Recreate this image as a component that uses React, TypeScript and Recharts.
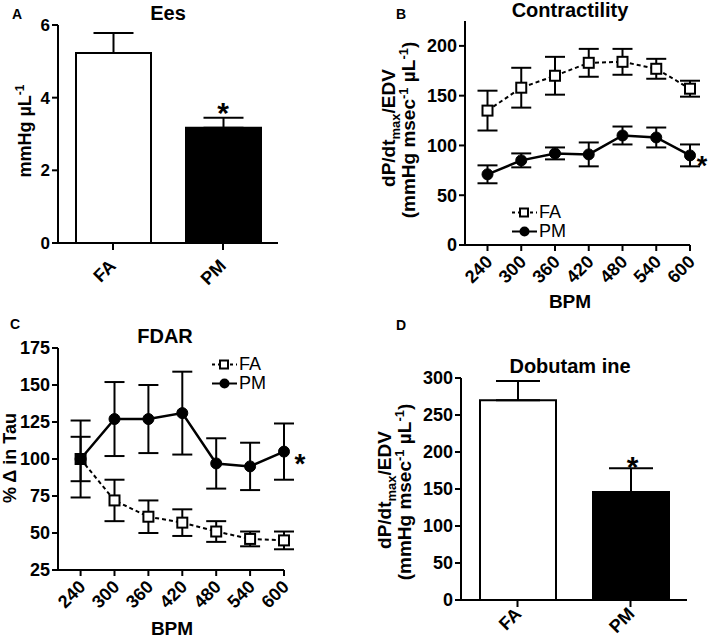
import React from "react";
import {
  BarChart,
  Bar,
  Cell,
  LineChart,
  Line,
  XAxis,
  YAxis,
  ErrorBar,
  ReferenceDot,
  Legend,
} from "recharts";

// x axis of the heart-rate panels
const bpm = [240, 300, 360, 420, 480, 540, 600];

// B - contractility (dP/dtmax/EDV)
const contractFA = [135, 158, 170, 183, 184, 177, 157];
const contractFAErr = [20, 20, 19, 14, 13, 10, 8];
const contractPM = [71, 85, 92, 91, 110, 108, 90];
const contractPMErr = [9, 7, 6, 12, 9, 10, 11];

// C - FDAR (% change in tau)
const fdarFA = [100, 72, 61, 57, 51, 46, 45];
const fdarFAErr = [15, 14, 11, 9, 7, 5, 6];
const fdarPM = [100, 127, 127, 131, 97, 95, 105];
const fdarPMErr = [26, 25, 23, 28, 17, 16, 19];

// A / D - two groups
const groups = ["FA", "PM"];
const eesMean = [5.23, 3.17];
const eesErr = [0.55, 0.28];
const dobMean = [270, 146];
const dobErr = [26, 32];

const groupFill = ["#fff", "#000"];
const FONT = '"Liberation Sans", Arial, Helvetica, sans-serif';

const eesData = groups.map((g, i) => ({ group: g, mean: eesMean[i], err: [0, eesErr[i]] }));
const dobData = groups.map((g, i) => ({ group: g, mean: dobMean[i], err: [0, dobErr[i]] }));
const contractData = bpm.map((b, i) => ({
  bpm: b,
  fa: contractFA[i],
  faErr: contractFAErr[i],
  pm: contractPM[i],
  pmErr: contractPMErr[i],
}));
const fdarData = bpm.map((b, i) => ({
  bpm: b,
  fa: fdarFA[i],
  faErr: fdarFAErr[i],
  pm: fdarPM[i],
  pmErr: fdarPMErr[i],
}));

const axisStyle = { stroke: "#000", strokeWidth: 2 };
const yTick = { fontSize: 18, fontWeight: 700, fill: "#000" };

function RotTick(props: any) {
  const { x, y, payload, dx = 6, dy = 10, fontSize = 18 } = props;
  return (
    <g transform={`translate(${x + dx},${y + dy})`}>
      <text x={0} y={0} textAnchor="end" transform="rotate(-45)" fontSize={fontSize} fontWeight={700} fill="#000">
        {payload.value}
      </text>
    </g>
  );
}

const squareDot = (p: any) => (
  <rect key={`s${p.index}`} x={p.cx - 5} y={p.cy - 5} width={10} height={10} fill="#fff" stroke="#000" strokeWidth={2} />
);
const circleDot = (p: any) => <circle key={`c${p.index}`} cx={p.cx} cy={p.cy} r={5.5} fill="#000" stroke="#000" />;

const star = (dx: number, dy: number, size: number) => (p: any) => (
  <text x={p.cx + dx} y={p.cy + dy} textAnchor="middle" fontSize={size} fontWeight={700} fill="#000">
    *
  </text>
);

function SeriesLegend() {
  const row = (dashed: boolean, label: string) => (
    <div style={{ display: "flex", alignItems: "center", height: 19 }}>
      <svg width={25} height={19}>
        <line x1={0} y1={9.5} x2={25} y2={9.5} stroke="#000" strokeWidth={2} strokeDasharray={dashed ? "3 3" : undefined} />
        {dashed ? (
          <rect x={8} y={5.5} width={8} height={8} fill="#fff" stroke="#000" strokeWidth={2} />
        ) : (
          <circle cx={12.5} cy={9.5} r={5} fill="#000" />
        )}
      </svg>
      <span style={{ marginLeft: 2, fontSize: 18, fontFamily: FONT, color: "#000" }}>{label}</span>
    </div>
  );
  return (
    <div>
      {row(true, "FA")}
      {row(false, "PM")}
    </div>
  );
}

export default function App() {
  return (
    <div style={{ position: "absolute", left: 0, top: 0, width: 709, height: 639, background: "#fff", fontFamily: FONT }}>
      {/* A - Ees */}
      <div style={{ position: "absolute", left: 0, top: 0 }}>
        <BarChart width={354} height={310} data={eesData} margin={{ top: 25, right: 76, bottom: 17, left: 0 }}>
          <XAxis
            dataKey="group"
            height={50}
            axisLine={axisStyle}
            tickLine={axisStyle}
            tickSize={7}
            interval={0}
            tick={<RotTick dx={4} dy={15} />}
          />
          <YAxis width={58} domain={[0, 6]} ticks={[0, 2, 4, 6]} axisLine={axisStyle} tickLine={axisStyle} tickSize={6} tick={{ ...yTick, fontSize: 17 }} />
          <Bar dataKey="mean" barSize={75} stroke="#000" strokeWidth={2} isAnimationActive={false}>
            {eesData.map((d, i) => (
              <Cell key={d.group} fill={groupFill[i]} />
            ))}
            <ErrorBar dataKey="err" width={20} stroke="#000" strokeWidth={2} isAnimationActive={false} />
          </Bar>
          <ReferenceDot x="PM" y={eesMean[1] + eesErr[1]} r={1} shape={star(0, 5, 30)} />
        </BarChart>
      </div>

      {/* B - Contractility */}
      <div style={{ position: "absolute", left: 354, top: 0 }}>
        <LineChart width={355} height={310} data={contractData} margin={{ top: 21, right: 19, bottom: 20, left: 0 }}>
          <XAxis
            dataKey="bpm"
            type="number"
            domain={[200, 600]}
            ticks={bpm}
            height={45}
            axisLine={axisStyle}
            tickLine={axisStyle}
            tickSize={6}
            interval={0}
            tick={<RotTick />}
          />
          <YAxis width={111} domain={[0, 225]} ticks={[0, 50, 100, 150, 200]} axisLine={axisStyle} tickLine={axisStyle} tickSize={6} tick={yTick} />
          <Line dataKey="fa" name="FA" stroke="#000" strokeWidth={2} strokeDasharray="4 3" dot={squareDot} isAnimationActive={false}>
            <ErrorBar dataKey="faErr" width={10} stroke="#000" strokeWidth={2} isAnimationActive={false} />
          </Line>
          <Line dataKey="pm" name="PM" stroke="#000" strokeWidth={2.5} dot={circleDot} isAnimationActive={false}>
            <ErrorBar dataKey="pmErr" width={10} stroke="#000" strokeWidth={2} isAnimationActive={false} />
          </Line>
          <ReferenceDot x={600} y={contractPM[6]} r={1} shape={star(12, 20, 27)} />
          <Legend
            layout="vertical"
            align="center"
            verticalAlign="middle"
            width={80}
            height={40}
            wrapperStyle={{ left: 158, top: 203 }}
            content={() => <SeriesLegend />}
          />
        </LineChart>
      </div>

      {/* C - FDAR */}
      <div style={{ position: "absolute", left: 0, top: 310 }}>
        <LineChart width={354} height={329} data={fdarData} margin={{ top: 38, right: 70, bottom: 19, left: 0 }}>
          <XAxis
            dataKey="bpm"
            type="number"
            domain={[200, 600]}
            ticks={bpm}
            height={50}
            axisLine={axisStyle}
            tickLine={axisStyle}
            tickSize={6}
            interval={0}
            tick={<RotTick />}
          />
          <YAxis width={58} domain={[25, 175]} ticks={[25, 50, 75, 100, 125, 150, 175]} axisLine={axisStyle} tickLine={axisStyle} tickSize={6} tick={yTick} />
          <Line dataKey="fa" name="FA" stroke="#000" strokeWidth={2} strokeDasharray="4 3" dot={squareDot} isAnimationActive={false}>
            <ErrorBar dataKey="faErr" width={10} stroke="#000" strokeWidth={2} isAnimationActive={false} />
          </Line>
          <Line dataKey="pm" name="PM" stroke="#000" strokeWidth={2.5} dot={circleDot} isAnimationActive={false}>
            <ErrorBar dataKey="pmErr" width={10} stroke="#000" strokeWidth={2} isAnimationActive={false} />
          </Line>
          <ReferenceDot x={600} y={fdarPM[6]} r={1} shape={star(16, 21, 28)} />
          <Legend
            layout="vertical"
            align="center"
            verticalAlign="middle"
            width={80}
            height={40}
            wrapperStyle={{ left: 212, top: 45 }}
            content={() => <SeriesLegend />}
          />
        </LineChart>
      </div>

      {/* D - Dobutamine */}
      <div style={{ position: "absolute", left: 354, top: 310 }}>
        <BarChart width={355} height={329} data={dobData} margin={{ top: 68, right: 22, bottom: 4, left: 0 }}>
          <XAxis
            dataKey="group"
            height={35}
            axisLine={axisStyle}
            tickLine={axisStyle}
            tickSize={7}
            interval={0}
            tick={<RotTick dx={5} dy={6} />}
          />
          <YAxis width={107} domain={[0, 300]} ticks={[0, 50, 100, 150, 200, 250, 300]} axisLine={axisStyle} tickLine={axisStyle} tickSize={6} tick={yTick} />
          <Bar dataKey="mean" barSize={76} stroke="#000" strokeWidth={2} isAnimationActive={false}>
            {dobData.map((d, i) => (
              <Cell key={d.group} fill={groupFill[i]} />
            ))}
            <ErrorBar dataKey="err" width={22} stroke="#000" strokeWidth={2} isAnimationActive={false} />
          </Bar>
          <ReferenceDot x="PM" y={dobMean[1] + dobErr[1]} r={1} shape={star(2, 9, 30)} />
        </BarChart>
      </div>

      {/* panel letters, titles and axis titles */}
      <svg width={709} height={639} style={{ position: "absolute", left: 0, top: 0, pointerEvents: "none" }}>
        <g fontWeight={700} fill="#000">
          <text x={12} y={19} fontSize={14}>A</text>
          <text x={396} y={19} fontSize={14}>B</text>
          <text x={10} y={329} fontSize={14}>C</text>
          <text x={396} y={330} fontSize={14}>D</text>

          <text x={168} y={20} fontSize={20} textAnchor="middle">Ees</text>
          <text x={570} y={17} fontSize={20} textAnchor="middle">Contractility</text>
          <text x={165} y={343} fontSize={20} textAnchor="middle">FDAR</text>
          <text x={570} y={373} fontSize={20} textAnchor="middle">Dobutam ine</text>

          <text transform="translate(31,131) rotate(-90)" fontSize={18} textAnchor="middle">
            mmHg µL<tspan fontSize={12} dy={-7}>-1</tspan>
          </text>

          <text transform="translate(395,128) rotate(-90)" fontSize={19} textAnchor="middle">
            dP/dt<tspan fontSize={13} dy={5}>max</tspan>
            <tspan dy={-5}>/EDV</tspan>
          </text>
          <text transform="translate(415,130) rotate(-90)" fontSize={19} textAnchor="middle">
            (mmHg msec<tspan fontSize={13} dy={-7}>-1</tspan>
            <tspan dy={7}> µL</tspan>
            <tspan fontSize={13} dy={-7}>-1</tspan>
            <tspan dy={7}>)</tspan>
          </text>

          <text transform="translate(16,458) rotate(-90)" fontSize={18} textAnchor="middle">% Δ in Tau</text>

          <text transform="translate(391,490) rotate(-90)" fontSize={19} textAnchor="middle">
            dP/dt<tspan fontSize={13} dy={5}>max</tspan>
            <tspan dy={-5}>/EDV</tspan>
          </text>
          <text transform="translate(411,492) rotate(-90)" fontSize={19} textAnchor="middle">
            (mmHg msec<tspan fontSize={13} dy={-7}>-1</tspan>
            <tspan dy={7}> µL</tspan>
            <tspan fontSize={13} dy={-7}>-1</tspan>
            <tspan dy={7}>)</tspan>
          </text>

          <text x={570} y={308} fontSize={19} textAnchor="middle">BPM</text>
          <text x={172} y={635} fontSize={19} textAnchor="middle">BPM</text>
        </g>
      </svg>
    </div>
  );
}
